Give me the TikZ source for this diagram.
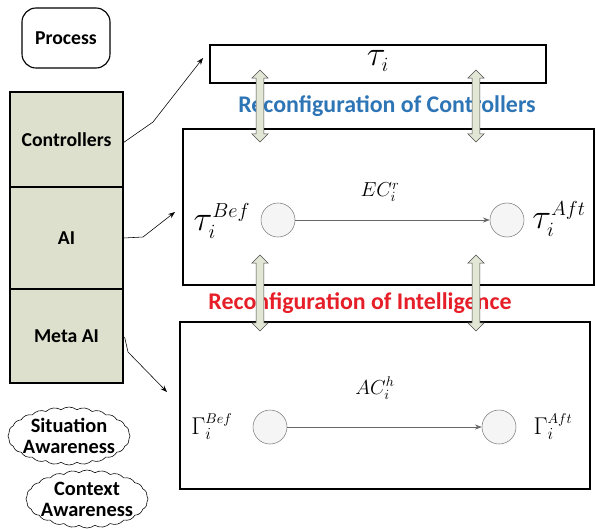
\documentclass[tikz,border=0pt]{standalone}
\usepackage{fontspec}
\setsansfont{Carlito}
\usetikzlibrary{positioning, calc, arrows.meta, shapes.symbols, shapes.arrows}
\definecolor{layerfill}{RGB}{221,224,204}
\definecolor{arrowfill}{RGB}{226,230,212}
\definecolor{ctrlblue}{RGB}{46,117,182}
\definecolor{intred}{RGB}{230,30,40}
\tikzset{
	labeltext/.style={font=\sffamily\bfseries\fontsize{14}{16}\selectfont}
}
\tikzset{
	reconftext/.style={font=\sffamily\bfseries\fontsize{17}{19}\selectfont}
}

\begin{document}
\begin{tikzpicture}[x=0.025cm, y=-0.025cm, >=Stealth,
    layer/.style={draw, thick, fill=layerfill, minimum width=2.825cm, labeltext},
    frame/.style={draw, line width=1.2pt},
    state/.style={circle, draw=gray, fill=gray!8, minimum size=0.85cm},
    reconf/.style={double arrow, draw=black!70, fill=arrowfill, rotate=90, inner sep=2.6pt, double arrow head extend=3pt},
    bubble/.style={cloud, draw, cloud puffs=24, cloud puff arc=75, cloud ignores aspect, inner sep=-5pt, minimum width=3.05cm, minimum height=1.45cm, align=center, font=\sffamily\bfseries\fontsize{14.5}{15}\selectfont}]
      \useasboundingbox (0,0) rectangle (596,528);
      % left column
      \node[draw, thick, rounded corners=10pt, minimum width=2.2cm, minimum height=1.5cm, labeltext] (proc) at (66,38) {Process};
      \node[layer, minimum height=2.375cm] (ctrl) at (66.5,139.5) {Controllers};
      \node[layer, minimum height=2.55cm] (ai) at (66.5,238) {AI};
      \node[layer, minimum height=2.35cm] (meta) at (66.5,336) {Meta AI};
      \node[bubble] (sit) at (69,436) {Situation\\Awareness};
      \node[bubble] (ctx) at (87,499) {Context\\Awareness};

      % right side frames
      \node[frame, minimum width=8.4cm, minimum height=0.95cm] (tau) at (378,64) {};
      \node at (378,61) {\fontsize{27}{29}\selectfont$\tau_{\scriptscriptstyle i}$};
      \node[frame, minimum width=10.275cm, minimum height=3.9cm] (ctlbox) at (388.5,207) {};
      \node[frame, minimum width=10.25cm, minimum height=4.175cm] (intbox) at (385,405.5) {};

      \node[reconftext, text=ctrlblue] (rc) at (387,106) {Reconfiguration of Controllers};
      \node[reconftext, text=intred] (ri) at (360,303) {Reconfiguration of Intelligence};

      % controller reconfiguration
      \node[state] (cb) at (278,220) {};
      \node[state] (ca) at (507,220) {};
      \draw[gray!80!black, ->] (cb) -- (ca);
      \node at (222,221) {\fontsize{29}{31}\selectfont$\tau_{\scriptscriptstyle i}^{\scriptscriptstyle Bef}$};
      \node at (559,219) {\fontsize{29}{31}\selectfont$\tau_{\scriptscriptstyle i}^{\scriptscriptstyle Aft}$};
      \node at (380,192) {\Large$EC_i^r$};

      % intelligence reconfiguration
      \node[state] (ib) at (270,427) {};
      \node[state] (ia) at (499,427) {};
      \draw[gray!80!black, ->] (ib) -- (ia);
      \node at (212,427) {\LARGE$\Gamma_{\scriptstyle i}^{\scriptscriptstyle Bef}$};
      \node at (553,427) {\LARGE$\Gamma_{\scriptstyle i}^{\scriptscriptstyle Aft}$};
      \node at (375,388) {\Large$AC_i^h$};

      % up/down arrows
      \node[reconf, minimum height=1.8cm] (u1) at (260,106) {};
      \node[reconf, minimum height=1.8cm] (u2) at (476,106) {};
      \node[reconf, minimum height=1.9cm] (d1) at (260,293) {};
      \node[reconf, minimum height=1.9cm] (d2) at (476,293) {};

      % links from the layers
      \coordinate (t1) at (203,58);
      \coordinate (t2) at (175,212);
      \coordinate (t3) at (167,392);
      \draw[->] (ctrl.east) ++(0,3) -- (153,122) -- (t1);
      \draw[->] (ai.east) -- (143,237) -- (t2);
      \draw[->] (meta.east) ++(1,1) -- (128,352) -- (t3);
    \end{tikzpicture}
\end{document}
